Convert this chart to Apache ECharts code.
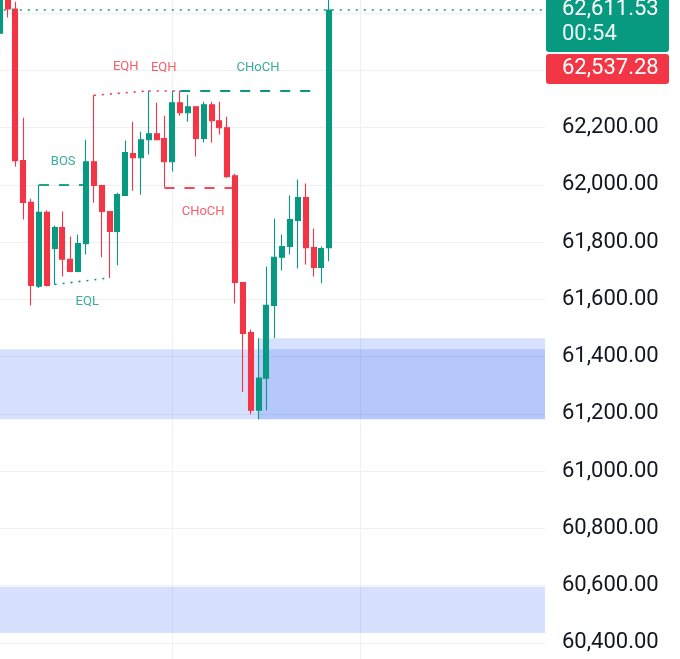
<!DOCTYPE html>
<html><head><meta charset="utf-8">
<script src="https://cdn.jsdelivr.net/npm/echarts@6/dist/echarts.min.js"></script>
<style>html,body{margin:0;padding:0;background:#fff}#c{width:680px;height:659px}</style>
</head><body><div id="c"></div>
<script>
// ---------- data ----------
const slotCount = 70;
const categories = Array.from({length: slotCount}, (_, i) => String(i));
const opens  = [62530,62700,62615,62085,61939,61646,61904,61778,61851,61740,61698,61795,62081,61998,61907,61837,61963,62110,62095,62158,62179,62162,62081,62287,62252,62273,62162,62280,62224,62200,62032,61659,61484,61213,61325,61579,61747,61785,61876,61956,61781,61712,61781];
const closes = [62700,62615,62085,61939,61649,61904,61649,61851,61740,61698,61795,62081,61998,61907,61837,61966,62113,62095,62158,62179,62158,62081,62287,62252,62273,62162,62280,62224,62200,62029,61659,61481,61213,61325,61579,61747,61785,61879,61956,61781,61712,61778,62611.53];
const lows   = [62447,62585,62064,61879,61579,61640,61645,61652,61680,61695,61695,61757,61938,61747,61675,61719,61963,61980,61966,62106,62155,61991,62047,62242,62221,62099,62148,62148,62176,62025,61586,61276,61199,61181,61213,61464,61701,61757,61708,61722,61680,61656,61733];
const highs  = [62720,62720,62640,62235,61952,62001,61911,61858,61907,61820,61827,62158,62313,62001,61907,61973,62155,62221,62186,62329,62287,62242,62329,62329,62315,62275,62291,62291,62291,62238,62039,61659,61495,61464,61715,61883,61827,61963,62019,62005,61848,61785,62660];
const lastPrice = 62611.53;
const countdown = '00:54';
const otherPrice = 62537.28;
const yTickMin = 60200, yTickMax = 62800, yTickStep = 200;

// zones (order blocks): start index (null = from left edge), top, bottom
const zoneStart  = [null, 33, null];
const zoneTop    = [61426, 61464, 60596];
const zoneBottom = [61181, 61181, 60434];

// structure lines: from [index, price] to [index, price]
const lineFrom = [[12,62313],[19,62329],[23,62329],[5,62001],[21,61990],[7,61652]];
const lineTo   = [[19,62329],[23,62329],[40,62329],[11,62001],[30,61990],[14,61675]];
const lineKind = ['dotRed','dotRed','dashGreen','dashGreen','dashRed','dotGreen'];

// structure labels
const labelText  = ['EQH','EQH','CHoCH','BOS','CHoCH','EQL'];
const labelIndex = [16, 21, 33, 8, 26, 11];
const labelPrice = [62414, 62409, 62409, 62080, 61907, 61593];
const labelColor = ['red','red','green','green','red','green'];

const gridAt = ['22','46'];

// ---------- styles ----------
const GREEN = '#089981', RED = '#F23645';
const labelDxPx = [0.5, -0.8, -0.6, 0.7, -0.6, 1.2];
const kindStyle = {
  dotRed:   {color: RED, type: [2, 6], width: 1.6},
  dotGreen: {color: GREEN, type: [2, 6], width: 1.6},
  dashRed:  {color: RED, type: [10, 10], width: 1.8},
  dashGreen:{color: GREEN, type: [10, 10], width: 1.8}
};
const FONT = 'Roboto, "Noto Sans", sans-serif';
const ZONE = 'rgba(33,87,243,0.18)';

const candleData = opens.map((o, i) => [o, closes[i], lows[i], highs[i]]);

const chart = echarts.init(document.getElementById('c'), null, {renderer: 'canvas'});
chart.setOption({
  animation: false,
  backgroundColor: '#ffffff',
  grid: {left: -4.2, right: 135, top: -44, bottom: -41, containLabel: false, outerBoundsMode: 'none'},
  xAxis: {
    type: 'category', data: categories, boundaryGap: true,
    axisLine: {show: false}, axisTick: {show: false}, axisLabel: {show: false},
    splitLine: {show: false}
  },
  yAxis: {
    type: 'value', position: 'right', min: yTickMin, max: yTickMax, interval: yTickStep,
    axisLine: {show: false}, axisTick: {show: false},
    axisLabel: {
      color: '#131722', fontSize: 22, fontFamily: FONT, margin: 17,
      formatter: v => v.toLocaleString('en-US', {minimumFractionDigits: 2, maximumFractionDigits: 2})
    },
    splitLine: {lineStyle: {color: '#eef0f3', width: 1}}
  },
  series: [
    {
      type: 'line', data: [], silent: true,
      markLine: {
        silent: true, z: 1, symbol: ['none','none'], label: {show: false},
        lineStyle: {color: '#eef0f3', type: 'solid', width: 1},
        data: gridAt.map(c => ({xAxis: c}))
      }
    },
    {
      type: 'candlestick', z: 3, barWidth: 5.5,
      data: candleData,
      itemStyle: {color: GREEN, color0: RED, borderColor: GREEN, borderColor0: RED, borderWidth: 1.1},
      markLine: {
        silent: true, z: 5, symbol: ['none','none'], label: {show: false},
        data: [
          {yAxis: lastPrice, lineStyle: {color: GREEN, type: [2, 6], width: 1.6}},
          ...lineFrom.map((f, k) => [
            {coord: [String(f[0]), f[1]], lineStyle: kindStyle[lineKind[k]]},
            {coord: [String(lineTo[k][0]), lineTo[k][1]]}
          ])
        ]
      }
    },
    {
      type: 'scatter', symbolSize: 0, silent: true, z: 6,
      data: labelText.map((t, k) => ({
        name: t, value: [labelIndex[k], labelPrice[k]],
        label: {
          show: true, position: 'inside', formatter: '{b}',
          color: labelColor[k] === 'red' ? RED : GREEN,
          fontSize: 13, fontFamily: FONT,
          offset: [labelDxPx[k], 0]
        }
      }))
    }
  ]
});

// plot-area edges (pixel) from the grid itself
const gridRect = chart.getModel().getComponent('grid').coordinateSystem.getRect();
const rightEdge = gridRect.x + gridRect.width;
const leftEdge = gridRect.x;

chart.setOption({
  series: [{
    markArea: {
      silent: true, z: 1,
      itemStyle: {color: ZONE},
      data: zoneTop.map((t, k) => [
        {x: zoneStart[k] === null ? leftEdge : chart.convertToPixel({xAxisIndex: 0}, String(zoneStart[k])),
         y: chart.convertToPixel({yAxisIndex: 0}, t)},
        {x: rightEdge, y: chart.convertToPixel({yAxisIndex: 0}, zoneBottom[k])}
      ])
    }
  }]
});

const y0 = chart.convertToPixel({yAxisIndex: 0}, lastPrice);
const fmt = v => v.toLocaleString('en-US', {minimumFractionDigits: 2, maximumFractionDigits: 2});
const bx = rightEdge + 1;
chart.setOption({
  graphic: [
    {type: 'rect', z: 100, shape: {x: bx, y: y0 - 19, width: 123, height: 61, r: 3}, style: {fill: GREEN}},
    {type: 'text', z: 101, x: 562, y: y0, style: {text: fmt(lastPrice), fill: '#fff', font: '22px ' + FONT, verticalAlign: 'middle'}},
    {type: 'text', z: 101, x: 562, y: y0 + 25, style: {text: countdown, fill: '#eafaf6', font: '22px ' + FONT, verticalAlign: 'middle'}},
    {type: 'rect', z: 100, shape: {x: bx, y: y0 + 44, width: 123, height: 30, r: 3}, style: {fill: RED}},
    {type: 'text', z: 101, x: 562, y: y0 + 59, style: {text: fmt(otherPrice), fill: '#fff', font: '22px ' + FONT, verticalAlign: 'middle'}}
  ]
});
</script>
</body></html>
